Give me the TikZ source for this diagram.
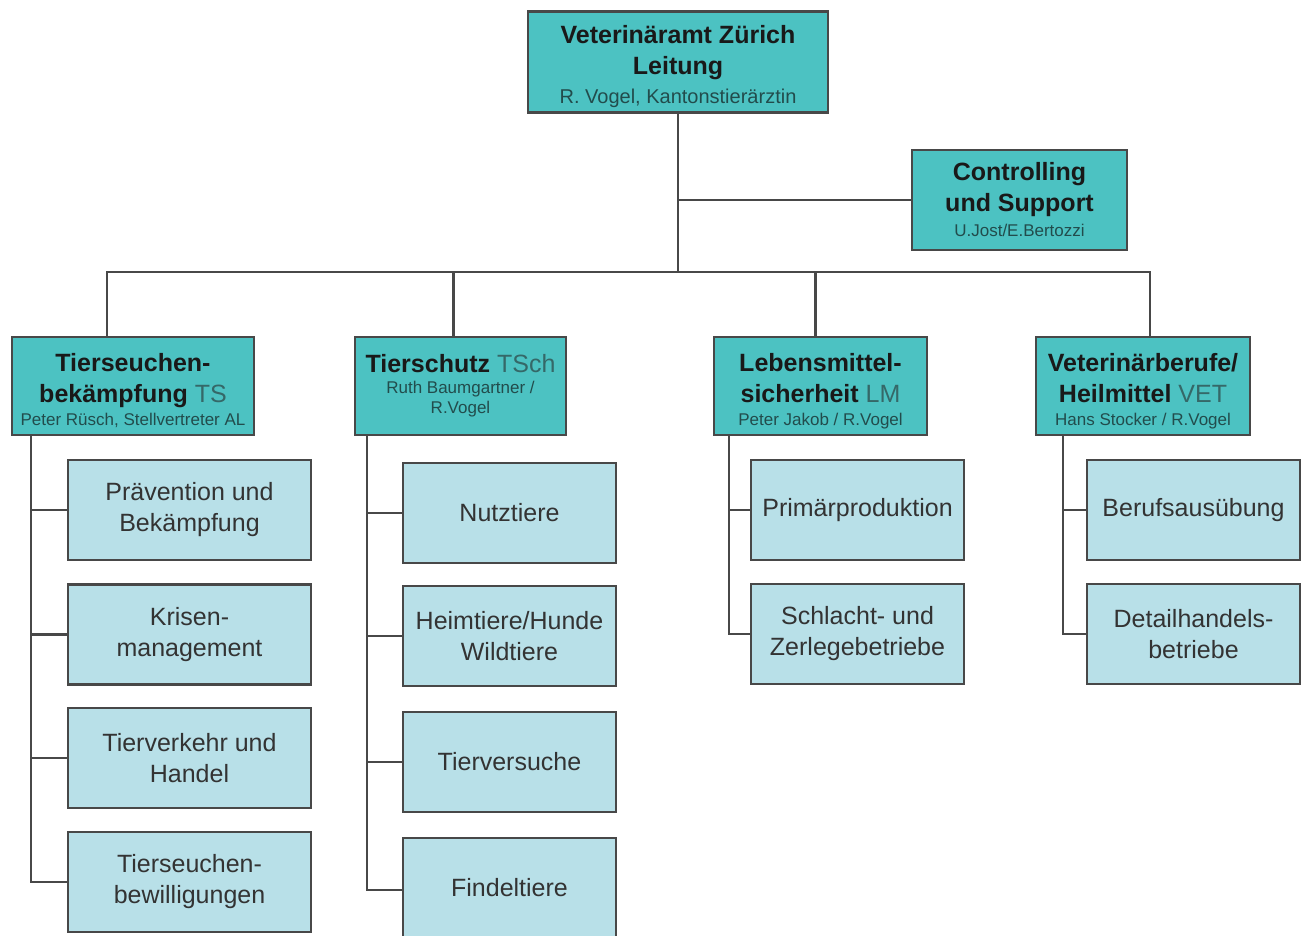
\documentclass[tikz,border=0pt]{standalone}
\usepackage{fontspec}
\setmainfont{Liberation Sans}
\usetikzlibrary{calc}

\definecolor{headteal}{HTML}{4CC2C2}
\definecolor{unitblue}{HTML}{B8E0E8}
\definecolor{linegray}{HTML}{484848}
\definecolor{abbrteal}{HTML}{356868}
\definecolor{nameteal}{HTML}{224C4C}

% text sizes
\newcommand{\headfont}{\fontsize{25}{31}\selectfont\bfseries}
\newcommand{\unitfont}{\fontsize{25}{31}\selectfont}
\newcommand{\abbr}[1]{{\mdseries\color{abbrteal}#1}}
\newcommand{\person}[1]{{\fontsize{17}{20}\selectfont\mdseries\color{nameteal}#1}}
\newcommand{\lift}[1]{\rule{0pt}{#1}}

\begin{document}
\begin{tikzpicture}[x=1pt, y=-1pt]
    % Define styles
    \tikzset{
        box/.style={draw=linegray, line width=2.5pt, align=center, inner sep=0pt},
        headbox/.style={box, fill=headteal, font=\headfont, text=black!90, minimum height=98pt},
        unitbox/.style={box, fill=unitblue, font=\unitfont, text=black!80, minimum width=213pt, minimum height=100pt},
        link/.style={linegray, line width=2.5pt}
    }

    \clip (0,0) rectangle (1303,935);
    \fill[white] (0,0) rectangle (1303,935);

    % Leitung
    \node[headbox, minimum width=300pt, minimum height=101pt] (amt) at (678,62)
        {\lift{28pt}Veterinäramt Zürich\\Leitung\\[-2pt]{\fontsize{20}{24}\selectfont\mdseries\color{nameteal}R. Vogel, Kantonstierärztin}};
    \node[headbox, minimum width=215pt, minimum height=100pt] (ctrl) at (1019.5,200)
        {Controlling\\und Support\\[-6pt]\person{U.Jost/E.Bertozzi}};

    % Abteilungen
    \node[headbox, minimum width=242pt] (ts) at (133,386)
        {\lift{28pt}Tierseuchen-\\bekämpfung \abbr{TS}\\[-8pt]\person{Peter Rüsch, Stellvertreter AL}};
    \node[headbox, minimum width=211pt] (tsch) at (460.5,386)
        {Tierschutz \abbr{TSch}\\[-10pt]\person{Ruth Baumgartner /}\\[-11pt]\person{R.Vogel}};
    \node[headbox, minimum width=213pt] (lm) at (820.5,386)
        {\lift{28pt}Lebensmittel-\\sicherheit \abbr{LM}\\[-8pt]\person{Peter Jakob / R.Vogel}};
    \node[headbox, minimum width=214pt] (vetb) at (1143,386)
        {\lift{28pt}Veterinärberufe/\\Heilmittel \abbr{VET}\\[-8pt]\person{Hans Stocker / R.Vogel}};

    % Bereiche TS
    \node[unitbox, minimum width=243pt] (tsu1) at (189.5,510) {Prävention und\\Bekämpfung};
    \node[unitbox, minimum width=243pt] (tsu2) at (189.5,634.5) {Krisen-\\management};
    \node[unitbox, minimum width=243pt] (tsu3) at (189.5,758) {Tierverkehr und\\Handel};
    \node[unitbox, minimum width=243pt] (tsu4) at (189.5,882) {Tierseuchen-\\bewilligungen};

    % Bereiche TSch
    \node[unitbox] (tschu1) at (509.5,513) {Nutztiere};
    \node[unitbox] (tschu2) at (509.5,636) {Heimtiere/Hunde\\Wildtiere};
    \node[unitbox] (tschu3) at (509.5,762) {Tierversuche};
    \node[unitbox] (tschu4) at (509.5,888) {Findeltiere};

    % Bereiche LM
    \node[unitbox] (lmu1) at (857.5,510) {Primärproduktion};
    \node[unitbox] (lmu2) at (857.5,634) {Schlacht- und\\Zerlegebetriebe};

    % Bereiche VET
    \node[unitbox] (vetu1) at (1193.5,510) {Berufsausübung};
    \node[unitbox] (vetu2) at (1193.5,634) {Detailhandels-\\betriebe};

    % Verbindungen oben
    \coordinate (bus) at (678,272);
    \draw[link] (amt.south) -- (bus);
    \draw[link] (ctrl.west) -- (ctrl.west -| bus);
    \draw[link] ([xshift=-26pt]ts.north) |- (bus);
    \draw[link] ([xshift=-7pt]tsch.north) |- (bus);
    \draw[link] ([xshift=-5pt]lm.north) |- (bus);
    \draw[link] ([xshift=7pt]vetb.north) |- (bus);

    % Verbindungen zu den Bereichen
    \coordinate (tsspine) at ([xshift=20pt]ts.south west);
    \draw[link] (tsspine) |- (tsu4.west);
    \foreach \i in {1,2,3}
        \draw[link] (tsu\i.west) -- (tsu\i.west -| tsspine);

    \coordinate (tschspine) at ([xshift=13pt]tsch.south west);
    \draw[link] (tschspine) |- ([yshift=-2pt]tschu4.west);
    \foreach \i in {1,2,3}
        \draw[link] (tschu\i.west) -- (tschu\i.west -| tschspine);

    \coordinate (lmspine) at ([xshift=16pt]lm.south west);
    \draw[link] (lmspine) |- (lmu2.west);
    \draw[link] (lmu1.west) -- (lmu1.west -| lmspine);

    \coordinate (vetspine) at ([xshift=28pt]vetb.south west);
    \draw[link] (vetspine) |- (vetu2.west);
    \draw[link] (vetu1.west) -- (vetu1.west -| vetspine);

\end{tikzpicture}
\end{document}
